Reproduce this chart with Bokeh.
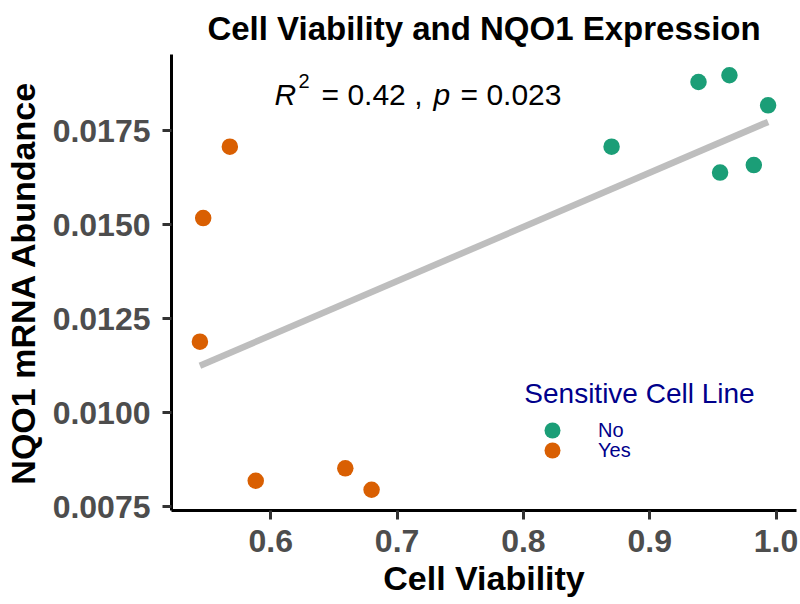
import numpy as np
from bokeh.plotting import figure
from bokeh.models import Range1d, FixedTicker, PrintfTickFormatter, Legend, LegendItem, Label
from bokeh.core.properties import value
from bokeh.embed import file_html
from bokeh.resources import INLINE

# ---- data ----
viability_no = [0.8698, 0.9386, 0.9631, 0.9937, 0.9557, 0.9824]
nqo1_no = [0.01708, 0.01880, 0.01898, 0.01818, 0.01639, 0.01659]
viability_yes = [0.5676, 0.5465, 0.5439, 0.5881, 0.6590, 0.6798]
nqo1_yes = [0.01708, 0.01518, 0.01189, 0.00819, 0.00852, 0.00795]

x_ticks = [0.6, 0.7, 0.8, 0.9, 1.0]
y_ticks = [0.0075, 0.0100, 0.0125, 0.0150, 0.0175]
group_labels = ["No", "Yes"]
group_colors = ["#1B9E77", "#D95F02"]
r2_value = "0.42"
p_value = "0.023"
stat_anchor = (0.603, 0.01848)
title_text = "Cell Viability and NQO1 Expression"
legend_title = "Sensitive Cell Line"

FONT = "Liberation Sans"

all_x = np.array(viability_no + viability_yes)
all_y = np.array(nqo1_no + nqo1_yes)


def expand(a, frac=0.05):
    lo, hi = float(a.min()), float(a.max())
    d = (hi - lo) * frac
    return lo - d, hi + d


xr = expand(all_x)
yr = expand(all_y)

p = figure(frame_width=625, frame_height=456,
           x_range=Range1d(*xr), y_range=Range1d(*yr),
           output_backend="svg", toolbar_location=None,
           min_border_left=10, min_border_right=3, min_border_top=10, min_border_bottom=4)
p.outline_line_color = None
p.xgrid.grid_line_color = None
p.ygrid.grid_line_color = None
p.background_fill_color = "white"

# title
p.title.text = title_text
p.title.align = "center"
p.title.text_font = FONT
p.title.text_font_size = "33px"
p.title.text_font_style = "bold"
p.title.text_color = "black"
p.title.standoff = 15

# axes
for ax in (p.xaxis[0], p.yaxis[0]):
    ax.axis_line_color = "black"
    ax.axis_line_width = 3
    ax.major_tick_line_color = "#333333"
    ax.major_tick_line_width = 3
    ax.major_tick_out = 9
    ax.major_tick_in = 0
    ax.minor_tick_line_color = None
    ax.major_label_text_font = FONT
    ax.major_label_text_font_size = "32px"
    ax.major_label_text_font_style = "bold"
    ax.major_label_text_color = "#4D4D4D"
    ax.axis_label_text_font = FONT
    ax.axis_label_text_font_size = "34px"
    ax.axis_label_text_font_style = "bold"
    ax.axis_label_text_color = "black"

p.xaxis.ticker = FixedTicker(ticks=x_ticks)
p.yaxis.ticker = FixedTicker(ticks=y_ticks)
p.xaxis.formatter = PrintfTickFormatter(format="%.1f")
p.yaxis.formatter = PrintfTickFormatter(format="%.4f")
p.xaxis.axis_label = "Cell Viability"
p.yaxis.axis_label = "NQO1 mRNA Abundance"
p.xaxis.major_label_standoff = 10
p.yaxis.major_label_standoff = 12
p.xaxis.axis_label_standoff = 4
p.yaxis.axis_label_standoff = 8

# regression line (least squares over all points)
slope, intercept = np.polyfit(all_x, all_y, 1)
fx = np.array([all_x.min(), all_x.max()])
p.line(fx, slope * fx + intercept, line_color="#BEBEBE", line_width=6.5)

# points
r_no = p.scatter(viability_no, nqo1_no, size=16.5, fill_color=group_colors[0], line_color=None)
r_yes = p.scatter(viability_yes, nqo1_yes, size=16.5, fill_color=group_colors[1], line_color=None)

# stat annotation
ax0, ay0 = stat_anchor
pieces = [("R", 0, 0, "italic", "30px"),
          ("2", 24, -13, "normal", "20px"),
          ("= " + r2_value + " ,", 47, 0, "normal", "30px"),
          ("p", 159, 0, "italic", "30px"),
          ("= " + p_value, 186, 0, "normal", "30px")]
for txt, dx, dy, style, size in pieces:
    p.text(x=[ax0], y=[ay0], text=[txt], x_offset=dx, y_offset=dy,
           text_font=value(FONT), text_font_size=value(size), text_font_style=style,
           text_color="black", text_baseline="alphabetic", text_align="left")

# legend: one row per group, rows 20px apart
legend_common = dict(padding=0, margin=0, spacing=0,
                     glyph_width=40, glyph_height=40, label_height=20, label_standoff=26,
                     label_text_font=FONT, label_text_font_size="20px", label_text_color="#00008B",
                     border_line_color=None, background_fill_alpha=0)
for lab, rend, vy in zip(group_labels, [r_no, r_yes], [60, 40]):
    p.add_layout(Legend(items=[LegendItem(label=lab, renderers=[rend])],
                        location=(361, vy), **legend_common))
p.add_layout(Label(x=468, y=117, x_units="screen", y_units="screen",
                   text=legend_title, text_font=FONT, text_font_size="28px",
                   text_color="#00008B", text_align="center", text_baseline="middle"))

open("out.html", "w").write(file_html(p, INLINE))
